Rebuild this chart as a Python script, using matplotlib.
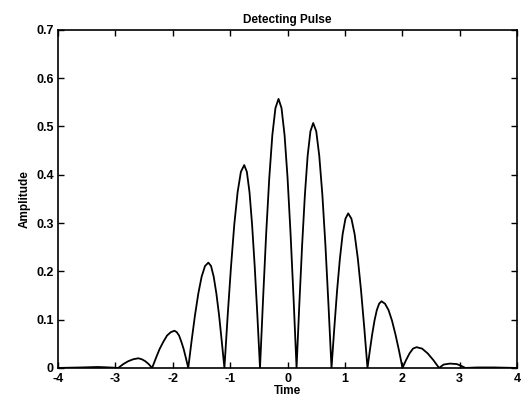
import numpy as np
import matplotlib
matplotlib.use("Agg")
import matplotlib.pyplot as plt

# --- Data (time, amplitude) ---
t_tail_left = [-4.0, -3.6, -3.3, -3.1, -2.95]
a_tail_left = [0.0, 0.001, 0.002, 0.001, 0.0]

t_h0 = [-2.862, -2.775, -2.688, -2.60, -2.54, -2.48, -2.42, -2.36]
a_h0 = [0.008, 0.014, 0.018, 0.020, 0.018, 0.014, 0.008, 0.0]

t_h1 = [-2.295, -2.23, -2.165, -2.10, -2.035, -1.97, -1.93, -1.89, -1.85, -1.81, -1.77, -1.73]
a_h1 = [0.020, 0.039, 0.054, 0.067, 0.074, 0.077, 0.074, 0.067, 0.054, 0.039, 0.020, 0.0]

t_h2 = [-1.672, -1.613, -1.555, -1.497, -1.438, -1.38, -1.333, -1.287, -1.24, -1.193, -1.147, -1.10]
a_h2 = [0.056, 0.109, 0.154, 0.189, 0.211, 0.218, 0.211, 0.189, 0.154, 0.109, 0.056, 0.0]

t_h3 = [-1.043, -0.985, -0.928, -0.870, -0.813, -0.755, -0.709, -0.663, -0.618, -0.572, -0.526, -0.48]
a_h3 = [0.109, 0.210, 0.297, 0.364, 0.406, 0.420, 0.406, 0.364, 0.297, 0.210, 0.109, 0.0]

t_h4 = [-0.426, -0.372, -0.318, -0.265, -0.211, -0.157, -0.105, -0.052, 0.0, 0.052, 0.105, 0.157]
a_h4 = [0.144, 0.279, 0.394, 0.482, 0.538, 0.557, 0.538, 0.482, 0.394, 0.279, 0.144, 0.0]

t_h5 = [0.205, 0.254, 0.302, 0.350, 0.399, 0.447, 0.500, 0.553, 0.607, 0.660, 0.713, 0.766]
a_h5 = [0.131, 0.254, 0.358, 0.439, 0.490, 0.507, 0.490, 0.439, 0.358, 0.254, 0.131, 0.0]

t_h6 = [0.815, 0.863, 0.912, 0.960, 1.009, 1.057, 1.113, 1.169, 1.225, 1.281, 1.337, 1.393]
a_h6 = [0.083, 0.160, 0.226, 0.277, 0.309, 0.320, 0.309, 0.277, 0.226, 0.160, 0.083, 0.0]

t_h7 = [1.434, 1.474, 1.515, 1.556, 1.596, 1.637, 1.698, 1.759, 1.820, 1.881, 1.942, 2.003]
a_h7 = [0.036, 0.069, 0.098, 0.120, 0.133, 0.138, 0.133, 0.120, 0.098, 0.069, 0.036, 0.0]

t_h8 = [2.064, 2.125, 2.186, 2.247, 2.345, 2.443, 2.542, 2.64]
a_h8 = [0.016, 0.030, 0.040, 0.043, 0.040, 0.030, 0.016, 0.0]

t_tail_right = [2.72, 2.83, 2.95, 3.03, 3.1, 3.3, 3.6, 4.0]
a_tail_right = [0.007, 0.009, 0.008, 0.004, 0.0, 0.001, 0.001, 0.0]

time = (t_tail_left + t_h0 + t_h1 + t_h2 + t_h3 + t_h4 + t_h5
        + t_h6 + t_h7 + t_h8 + t_tail_right)
amp = (a_tail_left + a_h0 + a_h1 + a_h2 + a_h3 + a_h4 + a_h5
       + a_h6 + a_h7 + a_h8 + a_tail_right)

x_ticks = [-4, -3, -2, -1, 0, 1, 2, 3, 4]
y_ticks = [0, 0.1, 0.2, 0.3, 0.4, 0.5, 0.6, 0.7]
y_labels = ["0", "0.1", "0.2", "0.3", "0.4", "0.5", "0.6", "0.7"]

plt.rcParams["font.family"] = ["Liberation Sans", "DejaVu Sans"]

fig = plt.figure(figsize=(5.32, 4.03), dpi=100)
ax = fig.add_axes([0.109, 0.087, 0.863, 0.839])

ax.plot(time, amp, color="black", linewidth=1.3)

ax.set_xlim(-4, 4)
ax.set_ylim(0, 0.7)
ax.set_xticks(x_ticks)
ax.set_xticklabels([str(v) for v in x_ticks], fontsize=9, fontweight="bold")
ax.set_yticks(y_ticks)
ax.set_yticklabels(y_labels, fontsize=9, fontweight="bold")
ax.tick_params(direction="in", top=True, right=True, length=4, width=1)
ax.tick_params(axis="x", pad=4)
ax.tick_params(axis="y", pad=3)
for s in ax.spines.values():
    s.set_linewidth(1.2)

ax.set_xlabel("Time", fontsize=8.5, fontweight="bold", labelpad=0)
ax.set_ylabel("Amplitude", fontsize=8.5, fontweight="bold", labelpad=4)
ax.set_title("Detecting Pulse", fontsize=8.5, fontweight="bold", pad=5)

fig.savefig("out.png", dpi=100)
